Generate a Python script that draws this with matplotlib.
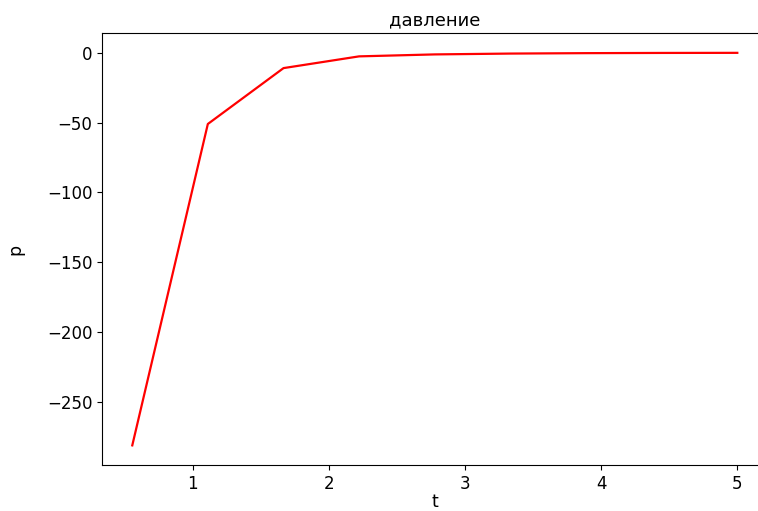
import matplotlib
matplotlib.use('Agg')
import matplotlib.pyplot as plt

# Data
t = [0.556, 1.111, 1.667, 2.222, 2.778, 3.333, 3.889, 4.444, 5.0]
p = [-281, -51, -11, -2.6, -1.2, -0.6, -0.3, -0.15, -0.08]

fig = plt.figure(figsize=(7.58, 5.11), dpi=100)
ax = fig.add_axes([0.1346, 0.090, 0.878, 0.845])

ax.plot(t, p, color='red', linewidth=1.6)

ax.set_title('давление', fontsize=13)
ax.set_xlabel('t', fontsize=12.5, labelpad=0)
ax.set_ylabel('p', fontsize=12.5, labelpad=16)
ax.tick_params(labelsize=12)

fig.savefig('out.png', dpi=100)
